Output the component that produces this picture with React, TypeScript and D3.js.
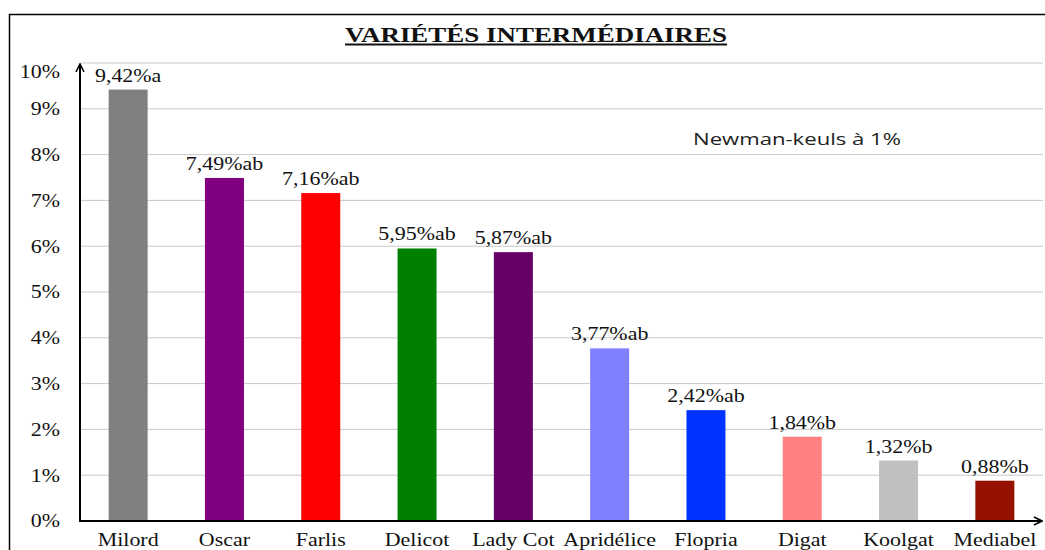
import React, { useEffect, useRef } from 'react';
import * as d3 from 'd3';

const varieties = ['Milord', 'Oscar', 'Farlis', 'Delicot', 'Lady Cot', 'Apridélice', 'Flopria', 'Digat', 'Koolgat', 'Mediabel'];
const values = [9.42, 7.49, 7.16, 5.95, 5.87, 3.77, 2.42, 1.84, 1.32, 0.88];
const groups = ['a', 'ab', 'ab', 'ab', 'ab', 'ab', 'ab', 'b', 'b', 'b'];
const barColors = ['#808080', '#800080', '#ff0000', '#008000', '#660066', '#8080ff', '#0033ff', '#ff8080', '#c0c0c0', '#941100'];
const yTicks = [0, 1, 2, 3, 4, 5, 6, 7, 8, 9, 10];

const App = () => {
  const svgRef = useRef(null);

  useEffect(() => {
    const width = 1045;
    const height = 550;
    const margin = { top: 63, right: 2, bottom: 29, left: 80 };

    const svg = d3.select(svgRef.current);
    svg.selectAll('*').remove();
    svg.attr('viewBox', [0, 0, width, height]);

    const serif = '"Liberation Serif", "Times New Roman", serif';
    // the original text looks stretched sideways
    const stretch = 1.22;
    const at = (px, py) => `translate(${px},${py}) scale(${stretch},1)`;

    // frame
    svg.append('rect')
      .attr('x', 9.5)
      .attr('y', 14.5)
      .attr('width', 1100)
      .attr('height', 600)
      .attr('fill', 'white')
      .attr('stroke', 'black')
      .attr('stroke-width', 1.5);

    const x = d3.scaleBand()
      .domain(varieties)
      .range([margin.left, width - margin.right])
      .padding(0);

    const y = d3.scaleLinear()
      .domain([0, 10])
      .range([height - margin.bottom, margin.top]);

    const barWidth = 39;

    // grid
    svg.append('g')
      .selectAll('line')
      .data(yTicks.filter(d => d > 0))
      .join('line')
      .attr('x1', margin.left)
      .attr('x2', width - margin.right)
      .attr('y1', d => y(d))
      .attr('y2', d => y(d))
      .attr('stroke', '#c8c8c8')
      .attr('stroke-width', 1);

    // y tick labels
    svg.append('g')
      .selectAll('text')
      .data(yTicks)
      .join('text')
      .attr('transform', d => at(60, y(d) + (d === 10 ? 9 : 0)))
      .attr('dy', '0.35em')
      .attr('text-anchor', 'end')
      .attr('font-family', serif)
      .attr('font-size', 18)
      .attr('fill', '#111')
      .text(d => `${d}%`);

    // bars
    svg.append('g')
      .selectAll('rect')
      .data(values)
      .join('rect')
      .attr('x', (d, i) => x(varieties[i]) + x.bandwidth() / 2 - barWidth / 2)
      .attr('y', d => y(d))
      .attr('width', barWidth)
      .attr('height', d => y(0) - y(d))
      .attr('fill', (d, i) => barColors[i]);

    // value labels
    svg.append('g')
      .selectAll('text')
      .data(values)
      .join('text')
      .attr('transform', (d, i) => at(x(varieties[i]) + x.bandwidth() / 2, y(d) - 8))
      .attr('text-anchor', 'middle')
      .attr('font-family', serif)
      .attr('font-size', 18)
      .attr('fill', '#111')
      .text((d, i) => `${d.toFixed(2).replace('.', ',')}%${groups[i]}`);

    // category labels
    svg.append('g')
      .selectAll('text')
      .data(varieties)
      .join('text')
      .attr('transform', d => at(x(d) + x.bandwidth() / 2, 546))
      .attr('text-anchor', 'middle')
      .attr('font-family', serif)
      .attr('font-size', 18)
      .attr('fill', '#111')
      .text(d => d);

    // axes with arrows
    const defs = svg.append('defs');
    defs.append('marker')
      .attr('id', 'arrow')
      .attr('viewBox', '0 0 10 10')
      .attr('refX', 9)
      .attr('refY', 5)
      .attr('markerWidth', 5)
      .attr('markerHeight', 5)
      .attr('orient', 'auto')
      .append('path')
      .attr('d', 'M1,1 L9,5 L1,9')
      .attr('fill', 'none')
      .attr('stroke', 'black')
      .attr('stroke-width', 1.6);

    svg.append('line')
      .attr('x1', margin.left)
      .attr('x2', margin.left)
      .attr('y1', y(0))
      .attr('y2', y(10) + 1)
      .attr('stroke', 'black')
      .attr('stroke-width', 2)
      .attr('marker-end', 'url(#arrow)');

    svg.append('line')
      .attr('x1', margin.left - 1)
      .attr('x2', width - 3)
      .attr('y1', y(0))
      .attr('y2', y(0))
      .attr('stroke', 'black')
      .attr('stroke-width', 2)
      .attr('marker-end', 'url(#arrow)');

    // title
    svg.append('text')
      .attr('x', 536)
      .attr('y', 42)
      .attr('text-anchor', 'middle')
      .attr('font-family', serif)
      .attr('font-weight', 'bold')
      .attr('font-size', 22)
      .attr('textLength', 382)
      .attr('lengthAdjust', 'spacingAndGlyphs')
      .attr('fill', '#111')
      .text('VARIÉTÉS INTERMÉDIAIRES');

    svg.append('line')
      .attr('x1', 345)
      .attr('x2', 727)
      .attr('y1', 44.5)
      .attr('y2', 44.5)
      .attr('stroke', '#111')
      .attr('stroke-width', 1.8);

    // test annotation
    svg.append('text')
      .attr('x', 693)
      .attr('y', 145)
      .attr('font-family', '"Open Sans", "Noto Sans", sans-serif')
      .attr('font-size', 17)
      .attr('textLength', 208)
      .attr('lengthAdjust', 'spacingAndGlyphs')
      .attr('fill', '#222')
      .text('Newman-keuls à 1%');
  }, []);

  return (
    <svg
      ref={svgRef}
      width={1045}
      height={550}
      style={{ position: 'fixed', left: 0, top: 0, display: 'block', background: 'white' }}
    ></svg>
  );
};

export default App;
